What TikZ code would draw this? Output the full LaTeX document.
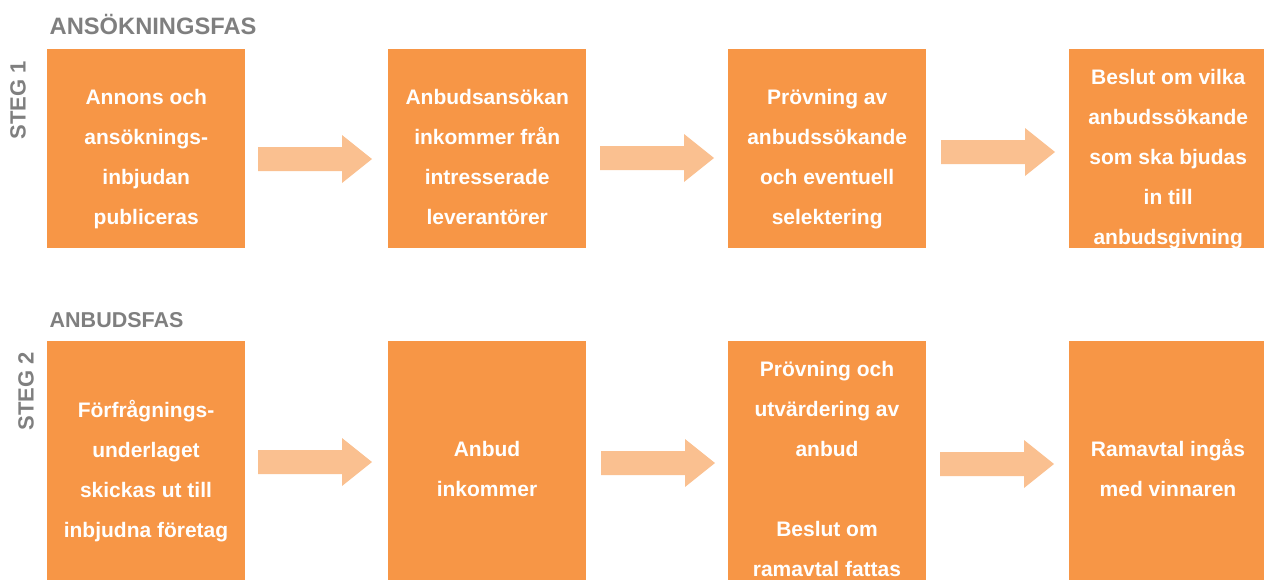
\documentclass[tikz,border=0pt]{standalone}
\usepackage{fontspec}
\setmainfont{Liberation Sans}
\definecolor{boxor}{HTML}{F79646}
\definecolor{arrcol}{HTML}{FAC090}
\definecolor{ttl}{HTML}{7F7F7F}
\begin{document}
\begin{tikzpicture}[x=1pt,y=-1pt,
  box/.style={fill=boxor,draw=none,inner sep=0pt,anchor=north west,minimum width=198pt},
  lbl/.style={text=white,align=center,font=\bfseries\fontsize{21}{40}\selectfont,inner sep=0pt},
  ttlstyle/.style={text=ttl,font=\bfseries\fontsize{21.5}{24}\selectfont,inner sep=0pt},
  stegstyle/.style={text=ttl,font=\bfseries\fontsize{22}{24}\selectfont,inner sep=0pt,rotate=90},
  arrowfill/.style={fill=arrcol,draw=none}]
\useasboundingbox (0,0) rectangle (1264,579);
% titles
\node[ttlstyle,anchor=base west,font=\bfseries\fontsize{23.7}{26}\selectfont] (t1) at (49.5,34) {ANSÖKNINGSFAS};
\node[ttlstyle,anchor=base west] (t2) at (49.5,327) {ANBUDSFAS};
\node[stegstyle] (s1) at (18,100) {STEG 1};
\node[stegstyle] (s2) at (26,391) {STEG 2};
% row 1 boxes
\node[box,minimum height=199pt] (a1) at (47,49) {};
\node[box,minimum height=199pt] (a2) at (388,49) {};
\node[box,minimum height=199pt] (a3) at (728,49) {};
\node[box,minimum height=199pt] (a4) at (1069,49) {};
% row 2 boxes
\node[box,minimum height=240pt] (b1) at (47,341) {};
\node[box,minimum height=240pt] (b2) at (388,341) {};
\node[box,minimum height=240pt] (b3) at (728,341) {};
\node[box,minimum height=240pt] (b4) at (1069,341) {};
% labels row 1
\node[lbl] (la1) at ([yshift=-10pt]a1.center) {Annons och\\ansöknings-\\inbjudan\\publiceras};
\node[lbl] (la2) at ([yshift=-8pt]a2.center) {Anbudsansökan\\inkommer från\\intresserade\\leverantörer};
\node[lbl] (la3) at ([yshift=-10pt]a3.center) {Prövning av\\anbudssökande\\och eventuell\\selektering};
\node[lbl] (la4) at ([yshift=-10pt]a4.center) {Beslut om vilka\\anbudssökande\\som ska bjudas\\in till\\anbudsgivning};
% labels row 2
\node[lbl] (lb1) at (146,471) {Förfrågnings-\\underlaget\\skickas ut till\\inbjudna företag};
\node[lbl] (lb2) at (487,469) {Anbud\\inkommer};
\node[lbl] (lb3) at (827,469) {Prövning och\\utvärdering av\\anbud\\\mbox{}\\Beslut om\\ramavtal fattas};
\node[lbl] (lb4) at (1168,468) {Ramavtal ingås\\med vinnaren};
% block arrows
\foreach \x/\y in {258/159, 600/158, 941/152, 258/462, 601/463, 940/464}{
  \fill[arrowfill] (\x,\y-12) -- (\x+84,\y-12) -- (\x+84,\y-24) -- (\x+114,\y)
     -- (\x+84,\y+24) -- (\x+84,\y+12) -- (\x,\y+12) -- cycle;
}
\end{tikzpicture}
\end{document}
